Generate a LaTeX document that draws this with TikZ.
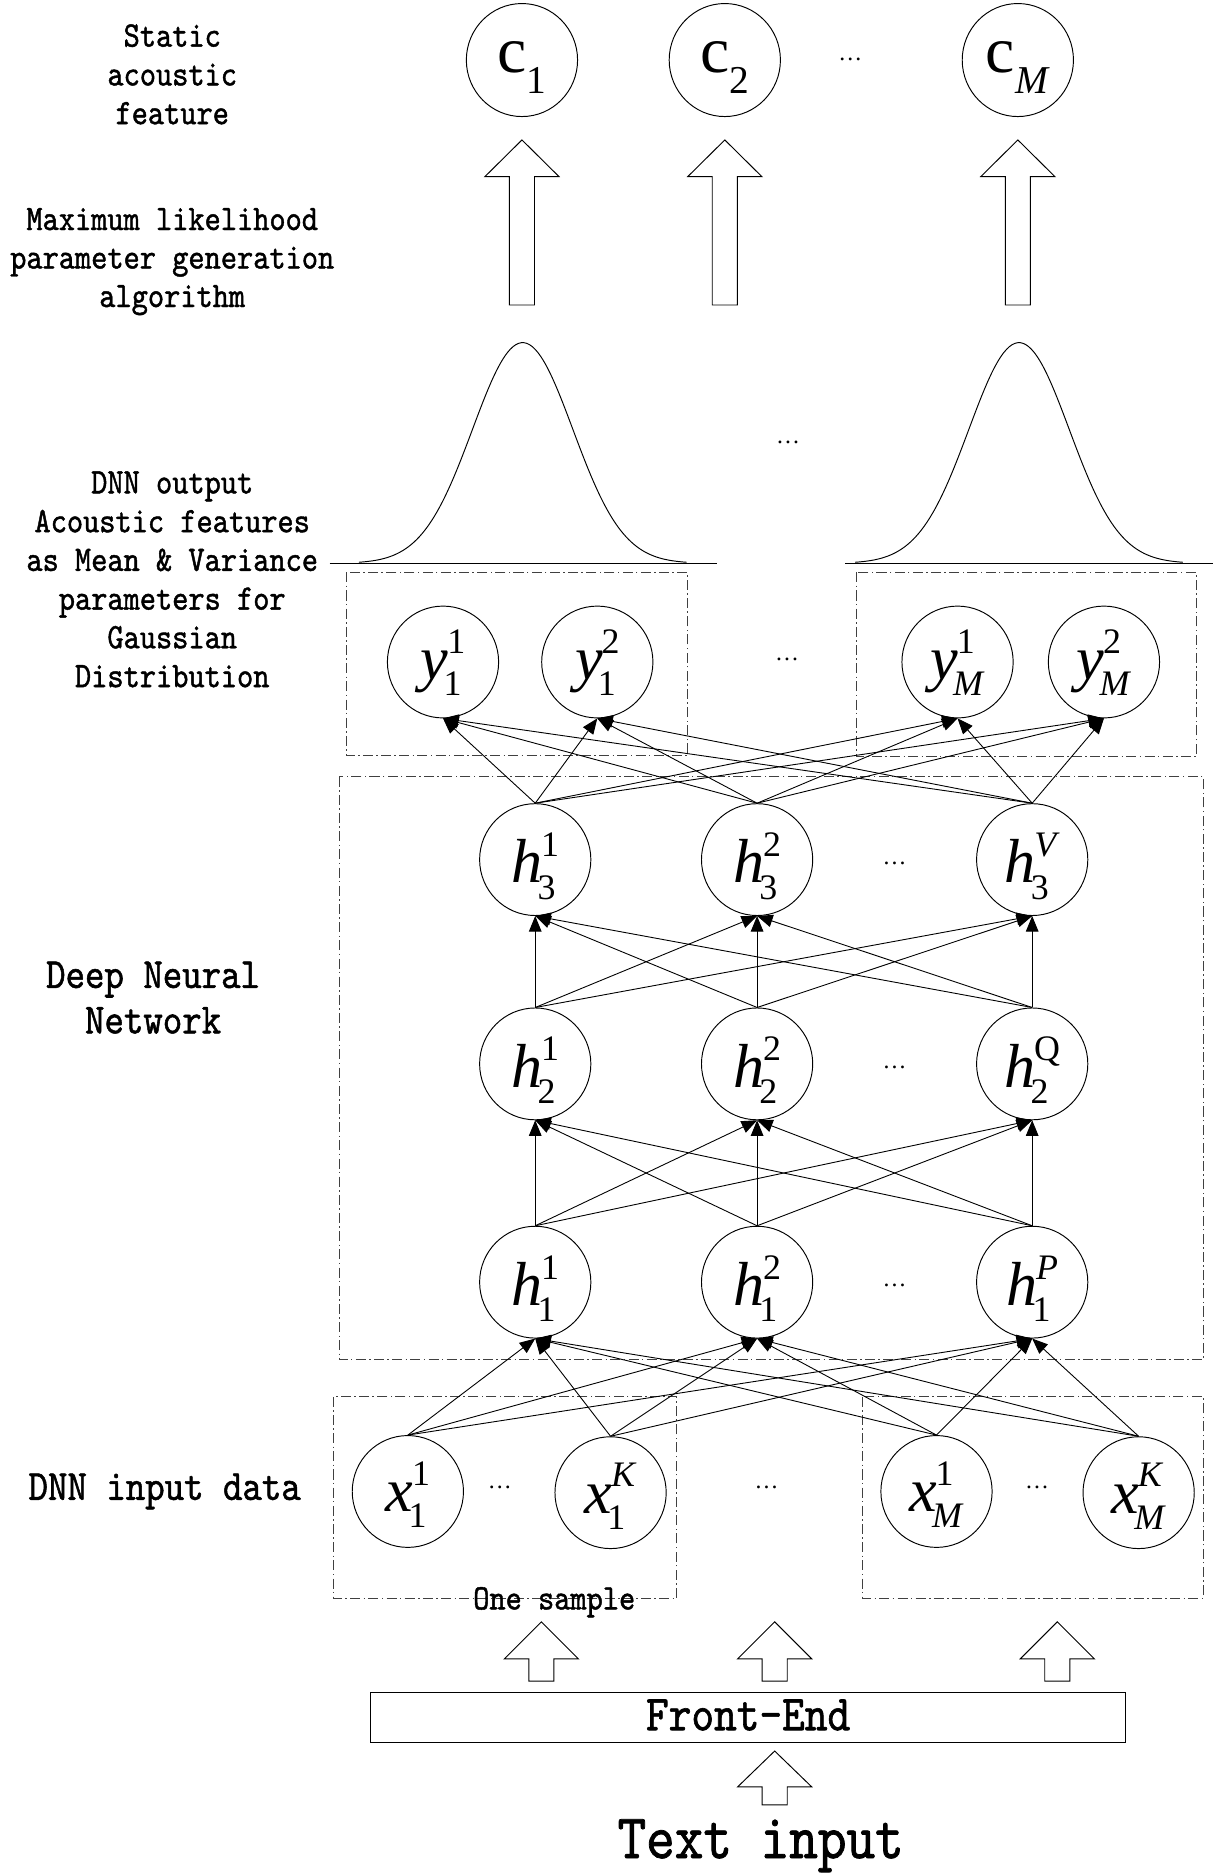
\documentclass[tikz,border=0pt]{standalone}
\usepackage{fontspec}
\usetikzlibrary{shapes.geometric,arrows.meta}
\newfontfamily\tms{Liberation Serif}
\newfontfamily\labfont[FakeStretch=0.86,FakeBold=1.2]{lmmono10-regular.otf}
\newcommand\lsmall{\labfont\fontsize{30}{32}\selectfont}
\newcommand\lmid{\labfont\fontsize{36}{38}\selectfont}
\newcommand\lfe{\labfont\fontsize{42}{44}\selectfont}
\newcommand\lbig{\labfont\fontsize{53}{55}\selectfont}
\newcommand\scr{\fontsize{30}{30}\selectfont}
\newdimen\ndw
\newcommand\nd[3]{\textit{#1}\kern-1pt{\scr\setbox0=\hbox{#2}\setbox2=\hbox{\kern-3pt #3}%
  \ifdim\wd0>\wd2 \ndw=\wd0 \else\ndw=\wd2 \fi
  \rlap{\raisebox{22pt}{\box0}}\rlap{\raisebox{-13.5pt}{\box2}}\kern\ndw}}
\newcommand\cn[1]{{\fontsize{55}{55}\selectfont c}\kern0.5pt\raisebox{-18pt}{\fontsize{33}{33}\selectfont #1}}
\newcommand\fatarrow[4]{\draw[fatarr] (#1,#2) -- (#1+31,#3) -- (#1+10.5,#3) -- (#1+10.5,#4) -- (#1-10.5,#4) -- (#1-10.5,#3) -- (#1-31,#3) -- cycle;}
\tikzset{
 neu/.style={ellipse, draw, line width=0.8pt, minimum width=93pt, minimum height=93.5pt, inner sep=0pt, font=\tms\fontsize{52}{52}\selectfont, text depth=0pt},
 hn/.style={neu, text height=39pt},
 yn/.style={neu, text height=29pt},
 xn/.style={neu, text height=34pt},
 cnode/.style={neu, minimum height=94.5pt, text height=20pt},
 conn/.style={line width=0.75pt, -{Triangle[length=13pt,width=10.5pt]}},
 grp/.style={draw=black!75, line width=0.8pt, dash pattern=on 8.4pt off 2.8pt on 1.2pt off 2.8pt},
 fatarr/.style={draw, line width=0.8pt, fill=white},
 lab/.style={font=\lsmall, anchor=base, inner sep=0pt},
 labm/.style={font=\lmid, anchor=base, inner sep=0pt},
 dots/.style={font=\tms\fontsize{20}{20}\selectfont, anchor=base, inner sep=0pt},
}
\begin{document}
\begin{tikzpicture}[x=1pt,y=-1pt]
\fill[white] (0,0) rectangle (1014,1566);
\useasboundingbox (0,0) rectangle (1014,1566);

% ---- left labels
\node[lab] (l1) at (144,39) {Static};
\node[lab] (l2) at (144,71.4) {acoustic};
\node[lab] (l3) at (144,103.8) {feature};
\node[lab] (l4) at (144,192.3) {Maximum likelihood};
\node[lab] (l5) at (144,224.5) {parameter generation};
\node[lab] (l6) at (144,256.7) {algorithm};
\node[lab] (l7) at (144,412.5) {DNN output};
\node[lab] (l8) at (144,445) {Acoustic features};
\node[lab] (l9) at (144,477.3) {as Mean \& Variance};
\node[lab] (l10) at (144,509.7) {parameters for};
\node[lab] (l11) at (144,542) {Gaussian};
\node[lab] (l12) at (144,574.5) {Distribution};
\node[labm] (l13) at (128,826) {Deep Neural};
\node[labm] (l14) at (128,864) {Network};
\node[labm] (l15) at (137.7,1254) {DNN input data};

% ---- c row
\node[cnode] (c1) at (436.4,50.2) {\cn{1}};
\node[cnode] (c2) at (606,50.2) {\cn{2}};
\node[cnode] (cM) at (851,50.2) {\cn{\textit{M}}};
\node[dots] (dc) at (711,50.5) {…};

% ---- hollow arrows (top)
\fatarrow{436.4}{117}{147.7}{255}
\fatarrow{606}{117}{147.7}{255}
\fatarrow{851}{117}{147.7}{255}

% ---- gaussians
\draw[line width=0.8pt] plot[domain=-13.7:13.7, samples=120, smooth] ({437+10*\x},{471-184.5*exp(-(\x*\x)/35.28)});
\draw[line width=0.8pt] plot[domain=-13.7:13.7, samples=120, smooth] ({852+10*\x},{471-184.5*exp(-(\x*\x)/35.28)});
\draw[line width=1pt] (275.5,471) -- (599.5,471);
\draw[line width=1pt] (706.5,471) -- (1014,471);
\node[dots] (dg) at (659,371) {…};

% ---- group boxes
\draw[grp] (289.7,478.5) rectangle (575,632);
\draw[grp] (716,478.5) rectangle (1000,632.7);
\draw[grp] (283.5,649.4) rectangle (1006,1137);
\draw[grp] (279,1167.8) rectangle (566,1336.4);
\draw[grp] (721.4,1167.8) rectangle (1006,1336.4);

% ---- y row
\node[yn] (y11) at (370.4,553.5) {\nd{y}{1}{1}};
\node[yn] (y12) at (499.4,553.5) {\nd{y}{2}{1}};
\node[yn] (yM1) at (800.6,553.5) {\nd{y}{1}{\textit{M}}};
\node[yn] (yM2) at (923,553.5) {\nd{y}{2}{\textit{M}}};
\node[dots] (dy) at (658,552) {…};

% ---- hidden layers
\node[hn] (h31) at (447.5,718.7) {\nd{h}{1}{3}};
\node[hn] (h32) at (633,718.7) {\nd{h}{2}{3}};
\node[hn] (h3V) at (863,718.7) {\nd{h}{\textit{V}}{3}};
\node[dots] (d3) at (748,722.5) {…};
\node[hn] (h21) at (447.5,889.5) {\nd{h}{1}{2}};
\node[hn] (h22) at (633,889.5) {\nd{h}{2}{2}};
\node[hn] (h2Q) at (863,889.5) {\nd{h}{Q}{2}};
\node[dots] (d2) at (748,893) {…};
\node[hn] (h11) at (447.5,1072) {\nd{h}{1}{1}};
\node[hn] (h12) at (633,1072) {\nd{h}{2}{1}};
\node[hn] (h1P) at (863,1072) {\nd{h}{\textit{P}}{1}};
\node[dots] (d1) at (748,1075.5) {…};

% ---- x row
\node[xn] (x11) at (341,1247) {\nd{x}{1}{1}};
\node[xn] (x1K) at (510.5,1248) {\nd{x}{\textit{K}}{1}};
\node[xn] (xM1) at (783,1247) {\nd{x}{1}{\textit{M}}};
\node[xn] (xMK) at (952,1248) {\nd{x}{\textit{K}}{\textit{M}}};
\node[dots] (dx1) at (418,1244.5) {…};
\node[dots] (dx2) at (641,1244.5) {…};
\node[dots] (dx3) at (867,1244.5) {…};
\node[lab] (os) at (463.4,1345.6) {One sample};

% ---- connectors
\foreach \s in {h31,h32,h3V}{\foreach \t in {y11,y12,yM1,yM2}{\draw[conn] (\s.north) -- (\t.south);}}
\foreach \s in {h21,h22,h2Q}{\foreach \t in {h31,h32,h3V}{\draw[conn] (\s.north) -- (\t.south);}}
\foreach \s in {h11,h12,h1P}{\foreach \t in {h21,h22,h2Q}{\draw[conn] (\s.north) -- (\t.south);}}
\foreach \s in {x11,x1K,xM1,xMK}{\foreach \t in {h11,h12,h1P}{\draw[conn] (\s.north) -- (\t.south);}}

% ---- bottom
\fatarrow{452.6}{1356}{1387}{1405.5}
\fatarrow{647.7}{1356}{1387}{1405.5}
\fatarrow{884}{1356}{1387}{1405.5}
\node[draw, line width=0.9pt, rectangle, minimum width=631pt, minimum height=41.8pt, inner sep=0pt, font=\lfe, text height=22pt, text depth=0pt] (fe) at (625.5,1435.6) {Front-End};
\fatarrow{647.7}{1464}{1494}{1509}
\node[font=\lbig, anchor=base, inner sep=0pt] (ti) at (636,1553.5) {Text input};
\end{tikzpicture}
\end{document}
